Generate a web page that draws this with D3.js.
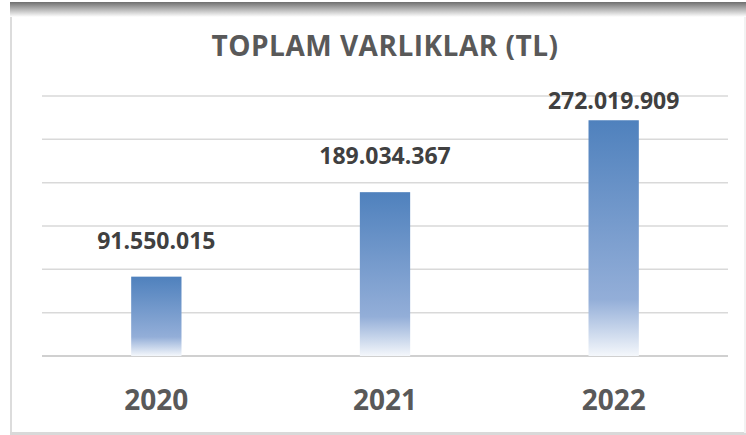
<!DOCTYPE html>
<html>
<head>
<meta charset="utf-8">
<script src="https://cdn.jsdelivr.net/npm/d3@7"></script>
<style>
	body { margin: 0; background: #fff; }
	svg text { font-family: "Open Sans", "Noto Sans", sans-serif; font-weight: bold; }
</style>
</head>
<body>
<svg id="chart" width="746" height="435"></svg>
<script>
// chart data
var years = ["2020", "2021", "2022"];
var totals = [91550015, 189034367, 272019909];
var labels = ["91.550.015", "189.034.367", "272.019.909"];
var gridTicks = [0, 50000000, 100000000, 150000000, 200000000, 250000000, 300000000];

var width = 746, height = 435;
var margin = {top: 96, right: 18, bottom: 79, left: 42};

var svg = d3.select("#chart");

// frame with shadow on top edge
var defs = svg.append("defs");
var shade = defs.append("linearGradient")
		.attr("id", "topShade")
		.attr("x1", 0).attr("y1", 0).attr("x2", 0).attr("y2", 1);
shade.append("stop").attr("offset", "0%").attr("stop-color", "#6f6f6f");
shade.append("stop").attr("offset", "100%").attr("stop-color", "#ffffff");

var barFill = defs.append("linearGradient")
		.attr("id", "barFill")
		.attr("x1", 0).attr("y1", 0).attr("x2", 0).attr("y2", 1);
barFill.append("stop").attr("offset", "0%").attr("stop-color", "#4f81bd");
barFill.append("stop").attr("offset", "76%").attr("stop-color", "#93aed8");
barFill.append("stop").attr("offset", "100%").attr("stop-color", "#f4f7fb");

svg.append("rect") // left edge
	.attr("x", 10).attr("y", 2).attr("width", 2).attr("height", 431)
	.style("fill", "#dcdcdc");
svg.append("rect") // bottom edge
	.attr("x", 10).attr("y", 432).attr("width", 736).attr("height", 3)
	.style("fill", "#d9d9d9");
svg.append("rect") // right edge
	.attr("x", 744).attr("y", 2).attr("width", 2).attr("height", 431)
	.style("fill", "#f2f2f2");
svg.append("rect") // top shadow
	.attr("x", 10).attr("y", 2).attr("width", 736).attr("height", 15)
	.style("fill", "url(#topShade)");

var x = d3.scaleBand()
		.domain(years)
		.range([margin.left, width - margin.right])
		.paddingInner(0.78)
		.paddingOuter(0.39);

var y = d3.scaleLinear()
		.domain([0, 300000000])
		.range([height - margin.bottom, margin.top]);

// gridlines
svg.append("g")
	.selectAll("line")
	.data(gridTicks)
	.enter().append("line")
	.attr("x1", margin.left)
	.attr("x2", width - margin.right)
	.attr("y1", function(d) { return y(d); })
	.attr("y2", function(d) { return y(d); })
	.style("stroke", function(d) { return d == 0 ? "#d0d0d0" : "#d9d9d9"; })
	.style("stroke-width", function(d) { return d == 0 ? 2 : 1.5; });

// bars
svg.append("g")
	.selectAll("rect")
	.data(totals)
	.enter().append("rect")
	.attr("x", function(d, i) { return x(years[i]); })
	.attr("y", function(d) { return y(d); })
	.attr("width", x.bandwidth())
	.attr("height", function(d) { return y(0) - y(d); })
	.style("fill", "url(#barFill)");

// value labels (kept inside the plot area)
svg.append("g")
	.selectAll("text")
	.data(totals)
	.enter().append("text")
	.attr("x", function(d, i) { return x(years[i]) + x.bandwidth() / 2; })
	.attr("y", function(d) { return Math.max(y(d) - 28, margin.top + 13); })
	.attr("text-anchor", "middle")
	.style("font-size", "23px")
	.style("fill", "#404040")
	.text(function(d, i) { return labels[i]; });

// category labels
svg.append("g")
	.selectAll("text")
	.data(years)
	.enter().append("text")
	.attr("x", function(d) { return x(d) + x.bandwidth() / 2; })
	.attr("y", 410)
	.attr("text-anchor", "middle")
	.style("font-size", "28px")
	.style("fill", "#595959")
	.text(function(d) { return d; });

// title
svg.append("text")
	.attr("x", 385)
	.attr("y", 56)
	.attr("text-anchor", "middle")
	.style("font-size", "28px")
	.style("letter-spacing", "0.5px")
	.style("fill", "#595959")
	.text("TOPLAM VARLIKLAR (TL)");
</script>
</body>
</html>
